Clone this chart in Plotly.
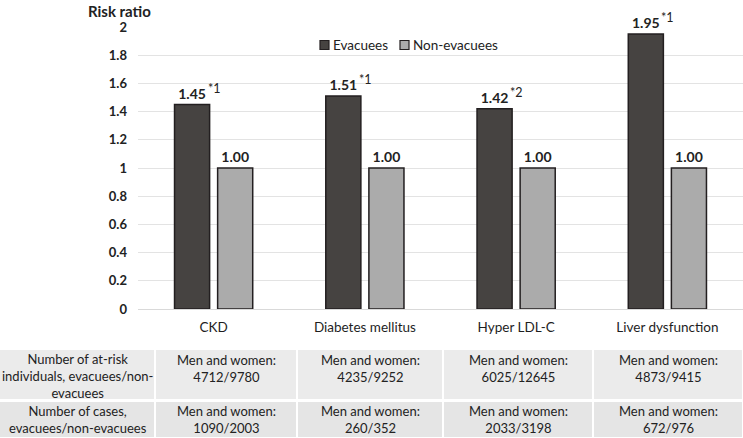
import plotly.graph_objects as go

categories = ["CKD", "Diabetes mellitus", "Hyper LDL-C", "Liver dysfunction"]
evacuees = [1.45, 1.51, 1.42, 1.95]
non_evacuees = [1.00, 1.00, 1.00, 1.00]
evac_marks = ["*1", "*1", "*2", "*1"]
y_ticks = [0, 0.2, 0.4, 0.6, 0.8, 1, 1.2, 1.4, 1.6, 1.8, 2]
series_names = ["Evacuees", "Non-evacuees"]
series_colors = ["#464341", "#ababab"]

row_labels = ["Number of at-risk<br>individuals, evacuees/non-<br>evacuees",
              "Number of cases,<br>evacuees/non-evacuees"]
at_risk = ["4712/9780", "4235/9252", "6025/12645", "4873/9415"]
cases = ["1090/2003", "260/352", "2033/3198", "672/976"]
cell_prefix = "Men and women:"

W, H = 743, 438
FONT = "Lato"
TXT = "#222222"
OUTLINE = "#231f20"

fig = go.Figure()
for name, vals, col in zip(series_names, [evacuees, non_evacuees], series_colors):
    fig.add_trace(go.Bar(
        x=categories, y=vals, name=name,
        marker=dict(color=col, line=dict(color=OUTLINE, width=1.5)),
        texttemplate="<b>%{y:.2f}</b>", textposition="outside",
        textfont=dict(family=FONT, size=14, color="#222222"), cliponaxis=False,
    ))

annotations = []
for c, v, m in zip(categories, evacuees, evac_marks):
    annotations.append(dict(x=c, y=v, xref="x", yref="y", text=m, showarrow=False,
                            xanchor="left", yanchor="bottom", xshift=-8, yshift=7,
                            font=dict(family=FONT, size=12.5, color=TXT)))

annotations.append(dict(x=86 / W, y=1, xref="paper", yref="paper", text="<b>Risk ratio</b>",
                        showarrow=False, xanchor="left", yanchor="top", yshift=0,
                        font=dict(family=FONT, size=15, color="#222222")))

shapes = []
# legend (drawn)
leg_marker_x = [320, 400]
leg_text_x = [331, 411]
leg_yc = 45
for name, col, mx, tx in zip(series_names, series_colors, leg_marker_x, leg_text_x):
    shapes.append(dict(type="rect", xref="paper", yref="paper",
                       x0=mx / W, x1=(mx + 9) / W, y0=1 - (leg_yc + 4.5) / H, y1=1 - (leg_yc - 4.5) / H,
                       fillcolor=col, line=dict(color=OUTLINE, width=1.2)))
    annotations.append(dict(x=tx / W, y=1 - leg_yc / H, xref="paper", yref="paper", text=name,
                            showarrow=False, xanchor="left", yanchor="middle",
                            font=dict(family=FONT, size=13.5, color=TXT)))

# table
col_edges = [0, 155, 297, 443, 593, 743]
row_edges = [(350, 399), (402, 437)]
row_fill = ["#ebebeb", "#e5e5e5"]
for ri, (top, bot) in enumerate(row_edges):
    for ci in range(len(col_edges) - 1):
        x0 = col_edges[ci] + (1 if ci > 0 else 0)
        x1 = col_edges[ci + 1] - 1
        shapes.append(dict(type="rect", xref="paper", yref="paper",
                           x0=x0 / W, x1=x1 / W, y0=1 - bot / H, y1=1 - top / H,
                           fillcolor=row_fill[ri], line=dict(width=0), layer="below"))

def cell(text, ci, yc):
    xc = (col_edges[ci] + col_edges[ci + 1]) / 2
    annotations.append(dict(x=xc / W, y=1 - yc / H, xref="paper", yref="paper", text=text,
                            showarrow=False, xanchor="center", yanchor="middle",
                            font=dict(family=FONT, size=13, color=TXT)))

cell(row_labels[0], 0, 376)
cell(row_labels[1], 0, 419.5)
for i in range(len(categories)):
    cell(cell_prefix + "<br>" + at_risk[i], i + 1, 368)
    cell(cell_prefix + "<br>" + cases[i], i + 1, 419.5)

fig.update_layout(
    width=W, height=H, margin=dict(l=0, r=0, t=0, b=0, autoexpand=False),
    paper_bgcolor="white", plot_bgcolor="white",
    barmode="group", bargap=0.43, bargroupgap=0.186,
    font=dict(family=FONT, size=13, color=TXT),
    showlegend=False,
    annotations=annotations, shapes=shapes,
    xaxis=dict(domain=[138 / W, 1], showgrid=False, showline=False, zeroline=False,
               tickfont=dict(family=FONT, size=13.5, color="#1e1e1e"), ticklabelstandoff=8,
               automargin=False, fixedrange=True),
    yaxis=dict(domain=[1 - 309 / H, 1 - 27 / H], range=[0, 2], tickvals=y_ticks,
               ticktext=["<b>%g</b>" % t for t in y_ticks],
               showgrid=True, gridcolor="#e3e3e3", gridwidth=1, zeroline=True,
               zerolinecolor="#d9d9d9", zerolinewidth=1, showline=False,
               tickfont=dict(family=FONT, size=13, color="#222222"), ticklabelstandoff=10,
               automargin=False, fixedrange=True),
)

fig.write_html("out.html", config={"displayModeBar": False},
               post_script="document.body.style.margin='0';document.body.style.overflow='hidden';")
